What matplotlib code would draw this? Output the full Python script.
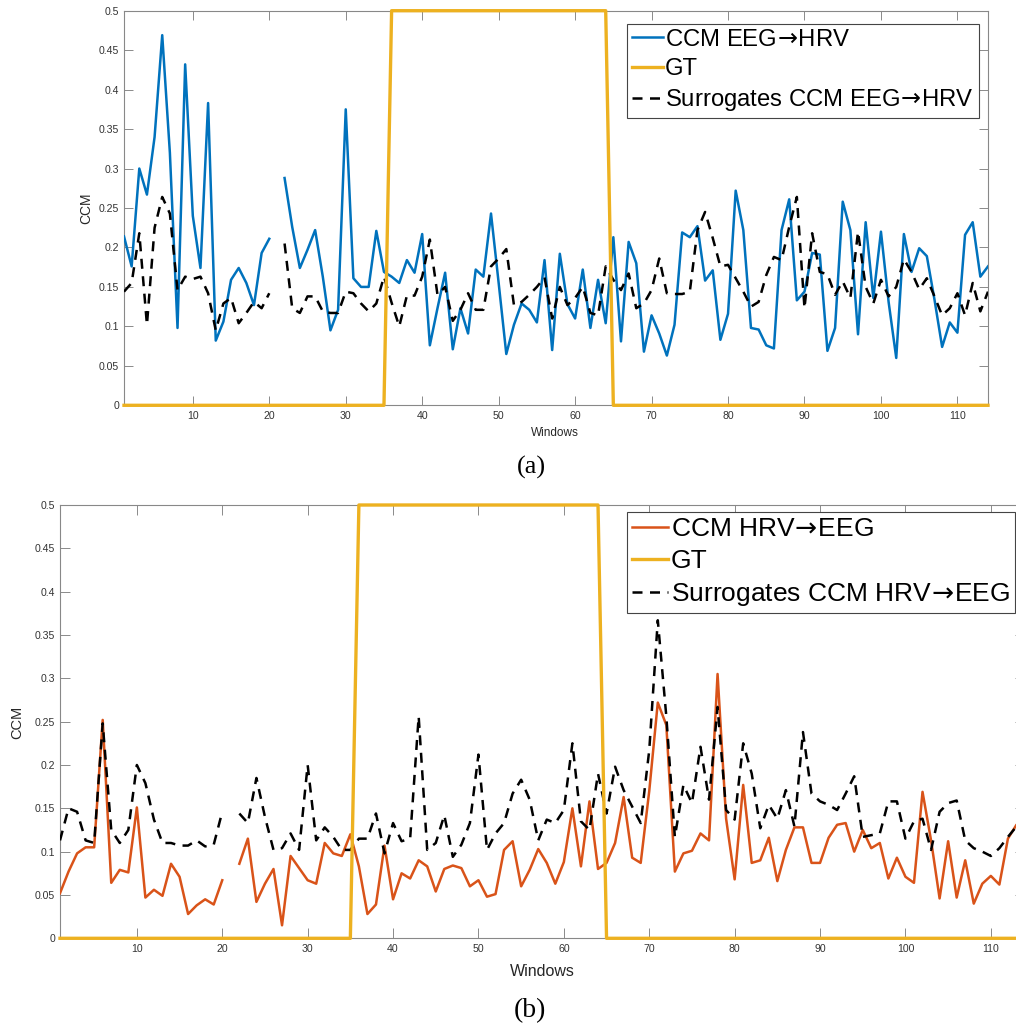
import numpy as np
import matplotlib
matplotlib.use("Agg")
import matplotlib.pyplot as plt

nan = np.nan
windows = np.arange(1, 115)

ccm_eeg_hrv = [0.214, 0.176, 0.300, 0.267, 0.340, 0.469, 0.320, 0.098, 0.432, 0.240,
               0.174, 0.383, 0.082, 0.106, 0.159, 0.174, 0.155, 0.127, 0.193, 0.211,
               nan, 0.288, 0.226, 0.174, 0.197, 0.222, 0.163, 0.095, 0.121, 0.375,
               0.161, 0.150, 0.150, 0.221, 0.169, 0.163, 0.155, 0.184, 0.168, 0.217,
               0.076, 0.123, 0.168, 0.071, 0.123, 0.091, 0.172, 0.163, 0.243, 0.155,
               0.065, 0.102, 0.129, 0.121, 0.105, 0.184, 0.070, 0.192, 0.128, 0.110,
               0.172, 0.098, 0.159, 0.104, 0.213, 0.081, 0.207, 0.180, 0.068, 0.114,
               0.091, 0.063, 0.102, 0.219, 0.213, 0.227, 0.158, 0.171, 0.083, 0.116,
               0.272, 0.222, 0.098, 0.096, 0.076, 0.072, 0.222, 0.261, 0.133, 0.144,
               0.193, 0.191, 0.069, 0.098, 0.258, 0.222, 0.090, 0.232, 0.136, 0.220,
               0.131, 0.060, 0.217, 0.169, 0.199, 0.189, 0.134, 0.074, 0.105, 0.092,
               0.216, 0.232, 0.163, 0.176]

surr_eeg_hrv = [0.144, 0.155, 0.218, 0.102, 0.225, 0.264, 0.243, 0.146, 0.163, 0.160,
                0.163, 0.142, 0.095, 0.129, 0.136, 0.104, 0.117, 0.131, 0.123, 0.142,
                nan, 0.205, 0.123, 0.117, 0.138, 0.138, 0.119, 0.117, 0.117, 0.144,
                0.142, 0.129, 0.119, 0.129, 0.163, 0.130, 0.100, 0.139, 0.139, 0.163,
                0.210, 0.140, 0.150, 0.107, 0.121, 0.142, 0.121, 0.121, 0.176, 0.186,
                0.198, 0.127, 0.131, 0.140, 0.150, 0.162, 0.110, 0.150, 0.127, 0.136,
                0.150, 0.117, 0.114, 0.176, 0.159, 0.146, 0.167, 0.123, 0.129, 0.146,
                0.186, 0.142, 0.141, 0.141, 0.144, 0.222, 0.245, 0.212, 0.176, 0.178,
                0.161, 0.144, 0.125, 0.131, 0.165, 0.188, 0.184, 0.226, 0.264, 0.123,
                0.218, 0.169, 0.166, 0.140, 0.157, 0.136, 0.220, 0.150, 0.129, 0.159,
                0.138, 0.150, 0.185, 0.169, 0.147, 0.161, 0.138, 0.114, 0.123, 0.142,
                0.114, 0.155, 0.119, 0.144]

ccm_hrv_eeg = [0.052, 0.077, 0.098, 0.105, 0.105, 0.252, 0.064, 0.079, 0.076, 0.151,
               0.047, 0.056, 0.049, 0.086, 0.071, 0.028, 0.038, 0.045, 0.039, 0.067,
               nan, 0.086, 0.115, 0.042, 0.063, 0.080, 0.015, 0.095, 0.081, 0.067,
               0.063, 0.110, 0.098, 0.095, 0.120, 0.083, 0.028, 0.039, 0.107, 0.045,
               0.075, 0.069, 0.090, 0.083, 0.054, 0.080, 0.084, 0.081, 0.060, 0.067,
               0.048, 0.051, 0.102, 0.112, 0.060, 0.079, 0.103, 0.087, 0.063, 0.088,
               0.150, 0.083, 0.158, 0.080, 0.087, 0.110, 0.163, 0.093, 0.087, 0.170,
               0.272, 0.246, 0.077, 0.098, 0.101, 0.121, 0.113, 0.305, 0.138, 0.068,
               0.177, 0.087, 0.090, 0.116, 0.066, 0.102, 0.128, 0.128, 0.087, 0.087,
               0.116, 0.131, 0.133, 0.100, 0.125, 0.104, 0.110, 0.069, 0.093, 0.071,
               0.064, 0.169, 0.113, 0.046, 0.112, 0.047, 0.090, 0.040, 0.063, 0.072,
               0.062, 0.115, 0.131, 0.130]

surr_hrv_eeg = [0.113, 0.150, 0.146, 0.113, 0.110, 0.248, 0.125, 0.110, 0.125, 0.200,
                0.179, 0.137, 0.110, 0.110, 0.107, 0.107, 0.113, 0.106, 0.108, 0.146,
                nan, 0.144, 0.133, 0.185, 0.140, 0.102, 0.104, 0.121, 0.102, 0.200,
                0.113, 0.128, 0.117, 0.102, 0.102, 0.115, 0.115, 0.144, 0.098, 0.133,
                0.112, 0.115, 0.256, 0.102, 0.110, 0.142, 0.094, 0.108, 0.133, 0.212,
                0.102, 0.121, 0.133, 0.167, 0.183, 0.160, 0.113, 0.137, 0.133, 0.148,
                0.225, 0.135, 0.125, 0.190, 0.144, 0.198, 0.171, 0.152, 0.133, 0.217,
                0.367, 0.256, 0.117, 0.177, 0.156, 0.221, 0.160, 0.267, 0.148, 0.137,
                0.225, 0.190, 0.127, 0.154, 0.138, 0.171, 0.129, 0.238, 0.167, 0.158,
                0.154, 0.148, 0.167, 0.187, 0.117, 0.119, 0.121, 0.158, 0.158, 0.115,
                0.135, 0.138, 0.102, 0.146, 0.156, 0.159, 0.113, 0.104, 0.100, 0.095,
                0.104, 0.117, 0.129, 0.135]

gt = [0.0] * 35 + [0.5] * 29 + [0.0] * 50

xticks = [10, 20, 30, 40, 50, 60, 70, 80, 90, 100, 110]
yticks = [0, 0.05, 0.1, 0.15, 0.2, 0.25, 0.3, 0.35, 0.4, 0.45, 0.5]
ytick_labels = ["0", "0.05", "0.1", "0.15", "0.2", "0.25", "0.3", "0.35", "0.4", "0.45", "0.5"]

ARW = "$\\!\\rightarrow\\!$"
labels_a = ["CCM EEG" + ARW + "HRV", "GT", "Surrogates CCM EEG" + ARW + "HRV"]
labels_b = ["CCM HRV" + ARW + "EEG", "GT", "Surrogates CCM HRV" + ARW + "EEG"]

BLUE = "#0072BD"
ORANGE = "#D95319"
YELLOW = "#EDB120"

W, H = 1016, 1028
fig = plt.figure(figsize=(W / 100, H / 100), dpi=100)
plt.rcParams['font.family'] = ['Liberation Sans', 'DejaVu Sans']
plt.rcParams['mathtext.fontset'] = 'dejavusans'

def px_axes(l, t, r, b):
    return fig.add_axes([l / W, 1 - b / H, (r - l) / W, (b - t) / H])

def style(ax, ticklen):
    ax.set_xlim(1, 114)
    ax.set_ylim(0, 0.5)
    ax.set_xticks(xticks)
    ax.set_yticks(yticks)
    ax.set_yticklabels(ytick_labels)
    ax.tick_params(direction='in', top=True, right=True, length=ticklen, width=0.6,
                   color='#777777', labelsize=7.6, labelcolor='#333333')
    ax.tick_params(axis='x', pad=4)
    ax.tick_params(axis='y', pad=3.5)
    for s in ax.spines.values():
        s.set_color('#888888')
        s.set_linewidth(0.8)

def draw(ax, ccm, surr, color, labels, legend_xy, legfs, handlelen, lspace):
    l1, = ax.plot(windows, ccm, color=color, lw=1.8, zorder=3)
    l2, = ax.plot(windows, gt, color=YELLOW, lw=2.4, zorder=5, clip_on=False)
    l3, = ax.plot(windows, surr, color='black', lw=1.8, dashes=(4, 3), zorder=4)
    leg = fig.legend([l1, l2, l3], labels, loc='upper left',
                     bbox_to_anchor=(legend_xy[0] / W, 1 - legend_xy[1] / H),
                     bbox_transform=fig.transFigure, fontsize=legfs, frameon=True,
                     fancybox=False, edgecolor='#444444', framealpha=1,
                     handlelength=handlelen, handletextpad=0.1, borderpad=0.2,
                     labelspacing=lspace, borderaxespad=0)
    leg.get_frame().set_linewidth(0.8)
    return leg

ax1 = px_axes(124, 10.7, 988, 405.3)
style(ax1, 6.2)
draw(ax1, ccm_eeg_hrv, surr_eeg_hrv, BLUE, labels_a, (627, 24), 17.2, 1.3, 0.3)

ax2 = px_axes(60, 505, 1025, 938.3)
style(ax2, 6.9)
draw(ax2, ccm_hrv_eeg, surr_hrv_eeg, ORANGE, labels_b, (627, 512), 19.0, 1.35, 0.3)

# axis labels
fig.text(86 / W, 1 - 208 / H, "CCM", rotation=90, ha='center', va='center', fontsize=10, color='#262626')
fig.text(555 / W, 1 - 433 / H, "Windows", ha='center', va='center', fontsize=8.5, color='#262626')
fig.text(17.5 / W, 1 - 722 / H, "CCM", rotation=90, ha='center', va='center', fontsize=10.5, color='#262626')
fig.text(542 / W, 1 - 971 / H, "Windows", ha='center', va='center', fontsize=11.5, color='#262626')

fig.text(531 / W, 1 - 467 / H, "(a)", ha='center', va='center', fontsize=19, family='Liberation Serif')
fig.text(530 / W, 1 - 1011 / H, "(b)", ha='center', va='center', fontsize=20, family='Liberation Serif')

fig.savefig("out.png", dpi=100, facecolor='white')
